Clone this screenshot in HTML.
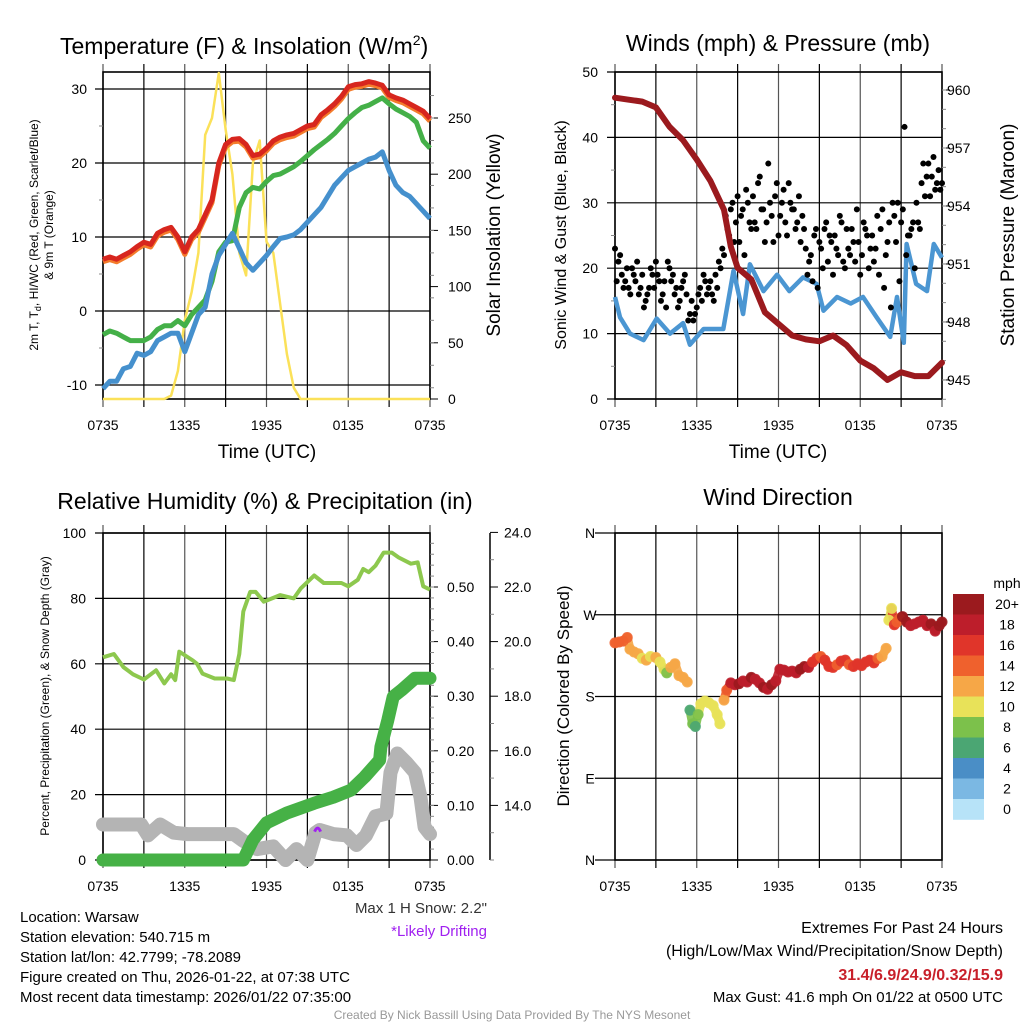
<!DOCTYPE html>
<html><head><meta charset="utf-8"><style>
html,body{margin:0;padding:0;background:#fff;}
svg{display:block;font-family:"Liberation Sans",sans-serif;}
</style></head><body>
<svg id="root" width="1024" height="1024" viewBox="0 0 1024 1024" xmlns="http://www.w3.org/2000/svg"></svg>
<script>
// ---------- DATA ----------
const hh = [0,0.5,1,1.5,2,2.5,3,3.5,4,4.5,5,5.5,6,6.5,7,7.5,8,8.5,9,9.5,10,10.5,11,11.5,12,12.5,13,13.5,14,14.5,15,15.5,16,16.5,17,17.5,18,18.5,19,19.5,20,20.5,21,21.5,22,22.5,23,23.5,24];
const tempRed = [7,7.3,7,7.5,8,8.7,9.3,9,10.5,11,11.3,10,8,10,11,13,15,20,22.5,23.2,23.3,22.5,21,21.2,22,23,23.5,23.8,24,24.5,25,25.2,26.5,27.2,28,29,30.3,30.6,30.7,31,30.8,30.5,29.2,28.8,28.5,28,27.5,27,26];
const dewGreen = [-3.2,-2.7,-3,-3.5,-4,-4,-4,-3.5,-2.5,-2,-2,-1.3,-2,-0.5,0.5,1.5,4,8,9.3,9.5,14,16,16.7,16.5,17.5,18.3,18.5,19,19.5,20.2,21,21.8,22.5,23.2,24,25,26,26.8,27.5,27.8,28.3,28.8,28,27.3,26.8,26.3,25.5,23,22];
const chillBlue = [-10.5,-9.5,-9.5,-7.8,-7.5,-5.7,-6,-5.5,-4,-3.5,-3,-3,-5.5,-3,-0.5,0.5,5,7.5,9,10.5,8.5,6.5,5.5,6.5,7.5,8.7,9.8,10,10.3,11,12,13,14,15.5,17,18,19,19.5,20,20.5,20.8,21.5,19,17,16,15.5,14.5,13.5,12.5];
const solarYellow = [0,0,0,0,0,0,0,0,0,0,3,25,70,95,130,235,250,290,240,200,130,110,210,230,140,130,85,40,10,0,0,0,0,0,0,0,0,0,0,0,0,0,0,0,0,0,0,0,0];
const tempTicks = [-10,0,10,20,30];
const solarTicks = [0,50,100,150,200,250];
const timeLabels = ["0735","1335","1935","0135","0735"];

const presHours = [0,1,2,3,4,5,6,7,8,8.5,9,10,11,12,13,14,15,16,17,18,19,20,21,22,23,24];
const pressure = [959.6,959.5,959.4,959.1,958.1,957.4,956.4,955.3,953.8,951.9,950.8,950.2,948.5,947.9,947.3,947.1,947.0,947.3,946.8,946.0,945.6,945.0,945.4,945.2,945.2,945.9];
const windHours = [0,0.37,1.1,2.1,3.06,4.04,5.0,5.5,6.5,7.95,8.7,9.4,9.9,10.9,11.9,12.8,13.8,14.8,15.3,16.3,17.3,18.2,19.2,20.2,20.7,21.2,21.4,22.1,22.9,23.4,24];
const windSpeed = [15.6,12.5,10,9,12.3,10,11.6,8.3,10.7,10.7,19.6,13,20.6,16.5,19,16.5,18.6,17.6,13.5,15.6,14.6,15.6,12.5,9.5,15.6,8.6,23.7,17.6,16.5,23.7,21.6];
const gustA = [23,21,19,18,17,20,18,16,19,15,17,19,21,18,16,14,20,19,17,15,18,16,13,12,14,17,19,16,18,15,17,20,22,26,29,24,31,28,22,30,26,27,33,29,24,36,28,31,25,30,27,33,29,26,31,28,23,21,18,26,24,20,27,25,19,23,28,21,26,22,24,29,19,27,25,23,21,28,26,17,24,14,28,30,27,41.6,25,26,20,27,33,31,36,34,32,35,33];
const gustB = [18,22,17,20,16,19,21,17,14,16,20,17,19,15,18,21,18,16,14,17,19,12,15,13,16,15,18,17,16,19,21,23,28,25,30,27,24,29,32,27,31,26,34,29,27,30,24,33,28,32,25,30,29,27,24,26,19,22,25,17,23,26,21,24,25,22,27,20,23,26,21,24,22,26,20,25,23,19,29,22,27,30,24,18,29,22,25,27,30,26,36,34,31,37,33,32];
const windTicks = [0,10,20,30,40,50];
const presTicks = [945,948,951,954,957,960];

const rhHours = [0,0.8,1.5,2.2,3,3.9,4.5,5,5.3,5.6,6.6,6.9,7.3,8.2,9.1,9.6,10,10.3,10.8,11.2,11.8,12.4,13,14,14.5,15.5,16.2,17.5,18,18.7,19.1,19.5,20,20.6,21.2,21.7,22.6,23.1,23.5,24];
const rh = [62,63,59,56.8,55.2,58,54,56.8,55,63.7,61,60,57,55.5,55.5,55,63,76,82,82,79,80,81,80,83,87,84.7,84.7,83.7,85.7,89,88,90,94,94,92.5,90.6,91,83.7,82.7];
const precipHours = [0,10.3,11,12,13.5,15.5,16.9,18.2,19.2,20.3,20.4,20.9,21.3,21.9,22.9,24];
const precip = [0,0,0.037,0.068,0.086,0.104,0.115,0.128,0.152,0.183,0.207,0.256,0.299,0.311,0.333,0.333];
const snowHours = [0,2.8,3.3,4.2,5.2,6.2,9.6,10.3,11.3,12.5,13.4,14.2,15,15.6,15.9,16.9,17.9,18.6,19.3,20,20.8,21.1,21.6,22.3,22.9,23.3,23.6,24];
const snowDepth = [13.3,13.3,12.9,13.3,13.0,12.95,12.95,12.7,12.4,12.5,12.0,12.4,12.0,13.0,13.1,12.95,12.9,12.55,12.9,13.6,13.7,15.2,15.9,15.55,15.2,14.3,13.2,12.95];
const rhTicks = [0,20,40,60,80,100];
const precipTicks = ["0.00","0.10","0.20","0.30","0.40","0.50"];
const snowTicks = ["14.0","16.0","18.0","20.0","22.0","24.0"];

const dirHours = [0,0.3,0.6,0.9,1.1,1.4,1.7,2.0,2.3,2.6,3.0,3.3,3.6,3.8,4.1,4.4,4.7,5.0,5.3,5.5,5.7,5.9,6.1,6.3,6.6,6.9,7.2,7.5,7.7,8.0,8.2,8.5,8.8,9.1,9.4,9.7,10.0,10.3,10.6,10.9,11.2,11.5,11.8,12.1,12.4,12.7,13.0,13.3,13.6,13.9,14.2,14.5,14.8,15.1,15.4,15.7,16.0,16.3,16.6,16.9,17.2,17.5,17.8,18.1,18.4,18.7,19.0,19.3,19.6,19.9,20.1,20.3,20.5,20.7,20.9,21.1,21.4,21.7,22.0,22.3,22.6,22.9,23.2,23.5,23.8,24];
const dirDeg = [239,240,241,245,232,229,227,222,220,224,223,218,210,206,212,216,203,201,196,165,150,147,160,172,175,173,170,160,150,176,187,195,193,194,197,196,201,199,195,190,188,193,197,210,209,207,208,206,210,213,212,218,222,224,220,213,212,215,219,220,215,213,216,214,218,220,217,222,224,233,264,277,259,262,266,268,262,258,260,262,264,258,260,252,258,262];
const dirSpeed = [15,15,14,14,12,12,12,11,12,10,12,11,10,9,12,12,12,12,12,7,8,7,8,11,10,10,10,11,10,12,15,19,19,20,19,19,20,19,19,20,19,20,19,19,18,18,19,18,20,20,19,17,16,14,16,16,16,15,16,16,14,16,17,17,17,16,16,15,13,12,10,10,16,14,15,20,20,19,18,18,19,18,20,19,20,20];
const dirLabels = ["N","E","S","W","N"];
const cbLabels = ["20+","18","16","14","12","10","8","6","4","2","0"];
const cbColors = ["#9b1a1e","#bd1e2b","#e0352a","#ef612d","#f6a747","#e8e259","#7cc14b","#4ba673","#4a8ec6","#7bb8e3","#b7e3f8"];

// ---------- HELPERS ----------
const NS = "http://www.w3.org/2000/svg";
const root = document.getElementById('root');
function mk(tag, attrs, parent){ const e=document.createElementNS(NS,tag); for(const k in attrs) e.setAttribute(k,attrs[k]); (parent||root).appendChild(e); return e; }
function txt(s, attrs, parent){ const e=mk('text',attrs,parent); e.textContent=s; return e; }
function pathFrom(xs, ys){ let d=''; for(let i=0;i<xs.length;i++) d+=(i?'L':'M')+xs[i].toFixed(1)+' '+ys[i].toFixed(1); return d; }

function frame(g, L, R, T, B){
  for(let i=0;i<=8;i++){ const x=L+(R-L)*i/8; const l=mk('line',{x1:x,x2:x,y1:T-8,y2:B+8,stroke:(i%2?'#000':'#555'),'stroke-width':1.2},g);
      }
  const r=mk('rect',{x:L,y:T,width:R-L,height:B-T,fill:'none',stroke:'#000','stroke-width':1.6},g);
   
}
function hline(g,L,R,y,ext){ const l=mk('line',{x1:L-(ext||8),x2:R,y1:y,y2:y,stroke:'#000','stroke-width':1.2},g);
    }
function xlabels(g,L,R,y){ timeLabels.forEach((s,i)=>{ const t=txt(s,{x:L+(R-L)*i/4,y:y,'font-size':14,'text-anchor':'middle'},g);
    }); }

// ---------- PANEL 1 ----------
(function(){
  const g=mk('g',{});  
  const L=103,R=430,T=72,B=399;
  const xS=h=>L+(R-L)*h/24, yT=v=>311-v*7.4, yS=v=>399-v*1.124;
  frame(g,L,R,T,B);
  tempTicks.forEach(v=>{ hline(g,L,R,yT(v)); const t=txt(String(v),{x:87,y:yT(v)+5,'font-size':14,'text-anchor':'end'},g);
      });
  [-5,5,15,25].forEach(v=>{ const l=mk('line',{x1:L-4,x2:L,y1:yT(v),y2:yT(v),stroke:'#888'},g);   });
  solarTicks.forEach(v=>{ const l=mk('line',{x1:R,x2:R+8,y1:yS(v),y2:yS(v),stroke:'#000'},g);  
    const t=txt(String(v),{x:448,y:yS(v)+5,'font-size':14},g);   });
  for(let v=10;v<290;v+=20){ const l=mk('line',{x1:R,x2:R+4,y1:yS(v),y2:yS(v),stroke:'#888'},g);   }
  const xs=hh.map(xS);
  const y1=mk('path',{d:pathFrom(xs,solarYellow.map(yS)),fill:'none',stroke:'#fbe159','stroke-width':2.5,'stroke-linejoin':'round'},g);
   
  const o=mk('path',{d:pathFrom(xs,tempRed.map(v=>yT(v-0.35))),fill:'none',stroke:'#f47c2c','stroke-width':5,'stroke-linejoin':'round'},g);
   
  const r=mk('path',{d:pathFrom(xs,tempRed.map(yT)),fill:'none',stroke:'#d7261e','stroke-width':5,'stroke-linejoin':'round'},g);
   
  const gr=mk('path',{d:pathFrom(xs,dewGreen.map(yT)),fill:'none',stroke:'#44b048','stroke-width':5,'stroke-linejoin':'round'},g);
   
  const b=mk('path',{d:pathFrom(xs,chillBlue.map(yT)),fill:'none',stroke:'#4590cd','stroke-width':5,'stroke-linejoin':'round'},g);
   
  xlabels(g,L,R,430);
  let t=txt('Temperature (F) & Insolation (W/m',{x:60,y:54,'font-size':23},g);  
  const sup=mk('tspan',{dy:-9,'font-size':14},t); sup.textContent='2'; const cl=mk('tspan',{dy:9,'font-size':23},t); cl.textContent=')';
  t=txt('Time (UTC)',{x:267,y:458,'font-size':19,'text-anchor':'middle'},g);  
  t=txt('Solar Insolation (Yellow)',{x:0,y:0,'font-size':19,'text-anchor':'middle',transform:'translate(500,235) rotate(-90)'},g);  
  const yt=mk('g',{},g);  
  t=mk('text',{x:0,y:0,'font-size':12,'text-anchor':'middle',transform:'translate(38,235) rotate(-90)'},yt);
  const a1=mk('tspan',{},t); a1.textContent='2m T, T'; const a2=mk('tspan',{dy:3,'font-size':9},t); a2.textContent='d'; const a3=mk('tspan',{dy:-3},t); a3.textContent=',  HI/WC (Red, Green, Scarlet/Blue)';
  t=txt('& 9m T (Orange)',{x:0,y:0,'font-size':12,'text-anchor':'middle',transform:'translate(53,235) rotate(-90)'},yt);
})();

// ---------- PANEL 2 ----------
(function(){
  const g=mk('g',{});  
  const L=615,R=942,T=72,B=399;
  const xS=h=>L+(R-L)*h/24, yW=v=>B-(B-T)*v/50, yP=p=>90+(960-p)*19.33;
  frame(g,L,R,T,B);
  windTicks.forEach(v=>{ hline(g,L,R,yW(v)); const t=txt(String(v),{x:598,y:yW(v)+5,'font-size':14,'text-anchor':'end'},g);
      });
  [5,15,25,35,45].forEach(v=>{ const l=mk('line',{x1:L-4,x2:L,y1:yW(v),y2:yW(v),stroke:'#888'},g);   });
  presTicks.forEach(v=>{ const l=mk('line',{x1:R,x2:R+8,y1:yP(v),y2:yP(v),stroke:'#000'},g);  
    const t=txt(String(v),{x:947,y:yP(v)+5,'font-size':14},g);   });
  for(let v=944;v<961;v++){ const l=mk('line',{x1:R,x2:R+4,y1:yP(v),y2:yP(v),stroke:'#888'},g);   }
  const w=mk('path',{d:pathFrom(windHours.map(xS),windSpeed.map(yW)),fill:'none',stroke:'#4b96d2','stroke-width':4.5,'stroke-linejoin':'round'},g);
   
  gustA.forEach((v,i)=>{ const c=mk('circle',{cx:xS(i*0.25),cy:yW(v),r:3,fill:'#000'},g);   });
  gustB.forEach((v,i)=>{ const c=mk('circle',{cx:xS(i*0.25+0.125),cy:yW(v),r:3,fill:'#000'},g);   });
  const p=mk('path',{d:pathFrom(presHours.map(xS),pressure.map(yP)),fill:'none',stroke:'#9b1a1e','stroke-width':6,'stroke-linejoin':'round','stroke-linecap':'round'},g);
   
  xlabels(g,L,R,430);
  let t=txt('Winds (mph) & Pressure (mb)',{x:778,y:51,'font-size':23,'text-anchor':'middle'},g);  
  t=txt('Time (UTC)',{x:778,y:458,'font-size':19,'text-anchor':'middle'},g);  
  t=txt('Sonic Wind & Gust (Blue, Black)',{x:0,y:0,'font-size':16,'text-anchor':'middle',transform:'translate(566,235) rotate(-90)'},g);  
  t=txt('Station Pressure (Maroon)',{x:0,y:0,'font-size':19,'text-anchor':'middle',transform:'translate(1014,235) rotate(-90)'},g);  
})();

// ---------- PANEL 3 ----------
(function(){
  const g=mk('g',{});  
  const L=103,R=430,T=533,B=860;
  const xS=h=>L+(R-L)*h/24, yR=v=>B-(B-T)*v/100, yPr=v=>B-v*546, ySn=v=>B-(v-12)*27.3;
  frame(g,L,R,T,B);
  rhTicks.forEach(v=>{ hline(g,L,R,yR(v)); const t=txt(String(v),{x:86,y:yR(v)+5,'font-size':14,'text-anchor':'end'},g);
      });
  precipTicks.forEach(s=>{ const y=yPr(parseFloat(s)); const l=mk('line',{x1:R,x2:R+8,y1:y,y2:y,stroke:'#000'},g);  
    const t=txt(s,{x:447,y:y+5,'font-size':14},g);   });
  for(let v=0.02;v<0.6;v+=0.02){ const l=mk('line',{x1:R,x2:R+4,y1:yPr(v),y2:yPr(v),stroke:'#888'},g);   }
  const ax=mk('line',{x1:490,x2:490,y1:T,y2:B,stroke:'#000','stroke-width':1.5},g);  
  snowTicks.forEach(s=>{ const y=ySn(parseFloat(s)); const l=mk('line',{x1:490,x2:498,y1:y,y2:y,stroke:'#000'},g);  
    const t=txt(s,{x:504,y:y+5,'font-size':14},g);   });
  [12,13,15,17,19,21,23].forEach(v=>{ const l=mk('line',{x1:490,x2:494,y1:ySn(v),y2:ySn(v),stroke:'#888'},g);   });
  const rl=mk('path',{d:pathFrom(rhHours.map(xS),rh.map(yR)),fill:'none',stroke:'#8dc84e','stroke-width':4,'stroke-linejoin':'round'},g);
   
  const sl=mk('path',{d:pathFrom(snowHours.map(xS),snowDepth.map(ySn)),fill:'none',stroke:'#b4b4b4','stroke-width':14,'stroke-linejoin':'round','stroke-linecap':'round'},g);
   
  const pl=mk('path',{d:pathFrom(precipHours.map(xS),precip.map(yPr)),fill:'none',stroke:'#46b146','stroke-width':13,'stroke-linejoin':'round','stroke-linecap':'round'},g);
   
  const dm=mk('path',{d:`M${xS(15.75)-3} ${ySn(13.15)+3} q3 -7 6 0`,fill:'none',stroke:'#a020f0','stroke-width':3},g);
   
  xlabels(g,L,R,891);
  let t=txt('Relative Humidity (%) & Precipitation (in)',{x:265,y:509,'font-size':23,'text-anchor':'middle'},g);  
  t=txt('Percent, Precipitation (Green), & Snow Depth (Gray)',{x:0,y:0,'font-size':12,'text-anchor':'middle',transform:'translate(49,696) rotate(-90)'},g);  
  t=txt('Max 1 H Snow: 2.2"',{x:487,y:913,'font-size':15,'text-anchor':'end',fill:'#333'},g);  
  t=txt('*Likely Drifting',{x:487,y:936,'font-size':15,'text-anchor':'end',fill:'#a020f0'},g);  
})();

// ---------- PANEL 4 ----------
(function(){
  const g=mk('g',{});  
  const L=615,R=942,T=533,B=860;
  const xS=h=>L+(R-L)*h/24, yD=d=>B-(B-T)*d/360;
  frame(g,L,R,T,B);
  dirLabels.forEach((s,i)=>{ const y=yD(i*90); hline(g,L,R,y,20); const t=txt(s,{x:590,y:y+5,'font-size':14,'text-anchor':'middle'},g);
      });
  const col=s=>cbColors[10-Math.min(10,Math.floor(s/2))];
  for(let i=1;i<dirHours.length;i++){
    if(Math.abs(dirDeg[i]-dirDeg[i-1])>20) continue;
    const l=mk('line',{x1:xS(dirHours[i-1]),y1:yD(dirDeg[i-1]),x2:xS(dirHours[i]),y2:yD(dirDeg[i]),stroke:col(dirSpeed[i]),'stroke-width':9,'stroke-linecap':'round','opacity':0.9},g);
     
  }
  dirHours.forEach((h,i)=>{ const c=mk('circle',{cx:xS(h),cy:yD(dirDeg[i]),r:5.5,fill:col(dirSpeed[i]),opacity:0.9},g);
      });
  xlabels(g,L,R,891);
  let t=txt('Wind Direction',{x:778,y:505,'font-size':23,'text-anchor':'middle'},g);  
  t=txt('Direction (Colored By Speed)',{x:0,y:0,'font-size':17,'text-anchor':'middle',transform:'translate(569,696) rotate(-90)'},g);  
  const cb=mk('g',{},g);  
  cbColors.forEach((c,i)=>{ const r=mk('rect',{x:953,y:594+i*20.5,width:31,height:20.8,fill:c},cb);  
    const tt=txt(cbLabels[i],{x:1007,y:594+i*20.5+15,'font-size':14,'text-anchor':'middle'},cb);   });
  t=txt('mph',{x:1007,y:588,'font-size':14,'text-anchor':'middle'},cb);  
})();

// ---------- FOOTER TEXT ----------
(function(){
  const info=["Location: Warsaw","Station elevation: 540.715 m","Station lat/lon: 42.7799; -78.2089","Figure created on Thu, 2026-01-22, at 07:38 UTC","Most recent data timestamp: 2026/01/22 07:35:00"];
  const g=mk('g',{});  
  info.forEach((s,i)=>{ const t=txt(s,{x:20,y:922+i*20,'font-size':15},g);   });
  const e=mk('g',{});  
  let t=txt('Extremes For Past 24 Hours',{x:1003,y:933,'font-size':16,'text-anchor':'end'},e);  
  t=txt('(High/Low/Max Wind/Precipitation/Snow Depth)',{x:1003,y:956,'font-size':16,'text-anchor':'end'},e);  
  t=txt('31.4/6.9/24.9/0.32/15.9',{x:1003,y:980,'font-size':16,'font-weight':'bold','text-anchor':'end',fill:'#c8202a'},e);  
  t=txt('Max Gust: 41.6 mph On 01/22 at 0500 UTC',{x:1003,y:1002,'font-size':15,'text-anchor':'end'},e);  
  t=txt('Created By Nick Bassill Using Data Provided By The NYS Mesonet',{x:512,y:1019,'font-size':12,'text-anchor':'middle',fill:'#999'});  
})();
</script>
</body></html>
